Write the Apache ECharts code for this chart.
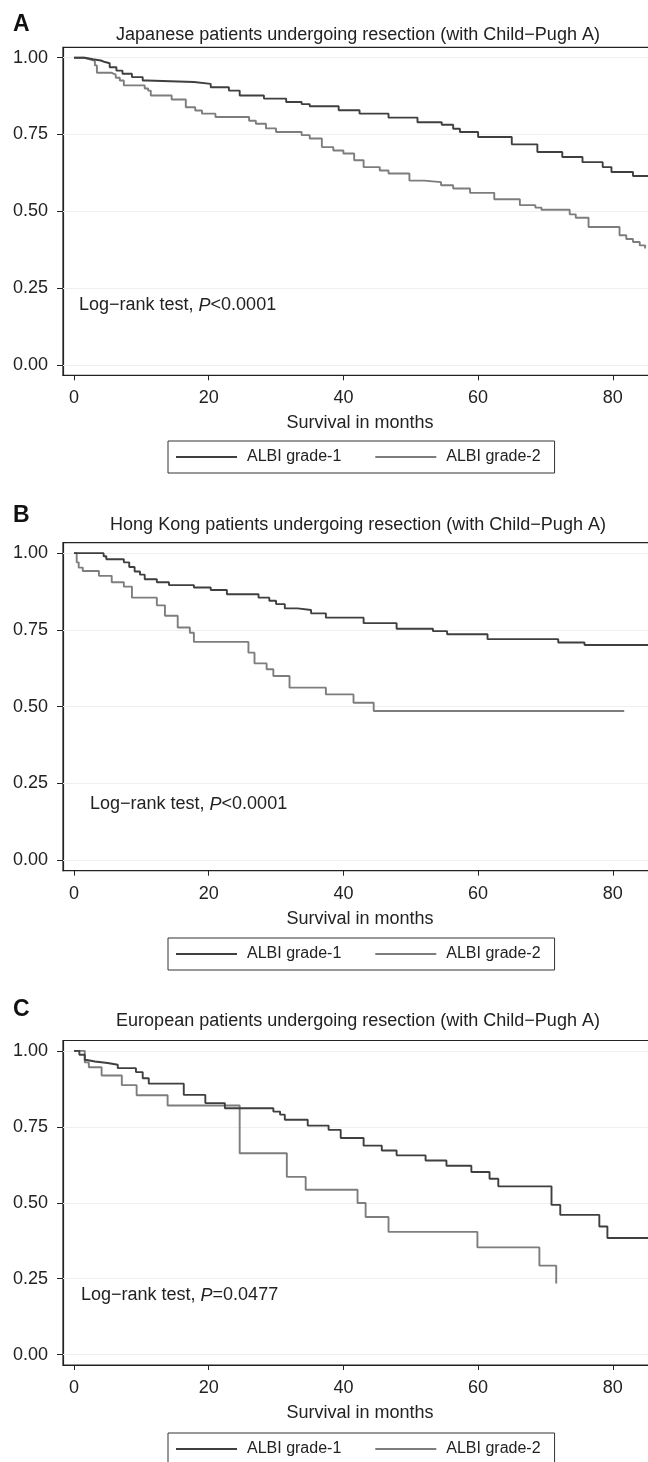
<!DOCTYPE html>
<html>
<head>
<meta charset="utf-8">
<script src="https://cdn.jsdelivr.net/npm/echarts@6/dist/echarts.min.js"></script>
<style>
html,body{margin:0;padding:0;background:#fff;overflow:hidden;}
#chart{width:648px;height:1462px;}
</style>
</head>
<body>
<div id="chart"></div>
<script>
// ---- data ----
const xTicks = [0, 20, 40, 60, 80];
const yTicks = [0, 0.25, 0.5, 0.75, 1];
const seriesNames = ['ALBI grade-1', 'ALBI grade-2'];
const panelLetters = ['A', 'B', 'C'];
const panelTitles = [
  'Japanese patients undergoing resection (with Child\u2212Pugh A)',
  'Hong Kong patients undergoing resection (with Child\u2212Pugh A)',
  'European patients undergoing resection (with Child\u2212Pugh A)'
];
const logRankP = ['<0.0001', '<0.0001', '=0.0477'];

// Panel A – Japanese
const jpG1Time = [0, 1.6, 2.8, 4.0, 4.6, 5.3, 6.3, 7.2, 8.6, 10.2, 10.8, 17.8, 20.3, 23.0, 24.6, 28.2, 31.5, 33.8, 35.0, 39.3, 42.4, 46.7, 51.0, 54.6, 56.3, 57.3, 60.0, 65.0, 68.8, 72.5, 75.5, 78.5, 79.8, 83.0, 85.3];
const jpG1Surv = [1, 0.995, 0.991, 0.986, 0.982, 0.969, 0.958, 0.948, 0.937, 0.926, 0.921, 0.915, 0.904, 0.893, 0.877, 0.867, 0.856, 0.849, 0.842, 0.829, 0.818, 0.805, 0.790, 0.782, 0.769, 0.758, 0.742, 0.718, 0.693, 0.677, 0.660, 0.644, 0.628, 0.615, 0.615];
const jpG2Time = [0, 1.5, 2.2, 3.1, 3.4, 5.6, 6.2, 6.8, 7.4, 10.5, 11.0, 11.4, 14.5, 16.6, 18.0, 19.0, 21.0, 26.0, 27.0, 28.5, 30.0, 33.8, 35.0, 36.8, 38.5, 40.0, 41.6, 43.0, 45.4, 46.7, 49.8, 52.0, 54.5, 56.3, 58.8, 62.4, 66.2, 68.5, 69.4, 73.6, 74.5, 76.4, 81.0, 82.0, 83.0, 84.0, 84.8];
const jpG2Surv = [1, 0.996, 0.990, 0.975, 0.951, 0.945, 0.935, 0.926, 0.910, 0.900, 0.893, 0.877, 0.864, 0.839, 0.828, 0.818, 0.807, 0.795, 0.785, 0.770, 0.758, 0.748, 0.737, 0.709, 0.698, 0.688, 0.666, 0.644, 0.633, 0.623, 0.600, 0.595, 0.585, 0.574, 0.560, 0.539, 0.520, 0.512, 0.505, 0.490, 0.479, 0.449, 0.422, 0.410, 0.400, 0.389, 0.379];

// Panel B – Hong Kong
const hkG1Time = [0, 4.4, 4.8, 7.4, 8.2, 9.0, 9.8, 10.5, 12.3, 14.1, 17.8, 20.3, 22.7, 27.4, 29.0, 30.0, 31.3, 33.2, 35.2, 37.4, 43.0, 47.9, 53.3, 55.4, 61.4, 71.9, 75.8, 85.3];
const hkG1Surv = [1, 0.990, 0.980, 0.970, 0.955, 0.940, 0.930, 0.915, 0.905, 0.896, 0.888, 0.880, 0.866, 0.855, 0.845, 0.834, 0.820, 0.815, 0.804, 0.790, 0.772, 0.754, 0.746, 0.736, 0.720, 0.709, 0.701, 0.701];
const hkG2Time = [0, 0.4, 0.7, 1.3, 3.7, 5.6, 7.4, 8.6, 12.3, 13.5, 15.4, 17.2, 17.8, 25.9, 26.8, 28.6, 29.6, 32.0, 37.4, 41.5, 44.5, 81.7];
const hkG2Surv = [1, 0.970, 0.953, 0.942, 0.926, 0.905, 0.891, 0.855, 0.830, 0.796, 0.758, 0.741, 0.711, 0.676, 0.641, 0.622, 0.600, 0.562, 0.540, 0.513, 0.486, 0.486];

// Panel C – European
const euG1Time = [0, 0.8, 1.6, 1.9, 3.1, 5.0, 6.5, 9.2, 10.2, 11.1, 16.3, 19.5, 22.4, 29.6, 30.6, 31.3, 34.7, 37.8, 39.6, 43.0, 45.7, 47.9, 52.2, 55.3, 59.0, 61.7, 63.0, 70.9, 72.2, 78.0, 79.2, 85.3];
const euG1Surv = [1, 0.987, 0.970, 0.965, 0.960, 0.954, 0.943, 0.930, 0.910, 0.892, 0.855, 0.828, 0.811, 0.800, 0.790, 0.773, 0.754, 0.740, 0.713, 0.688, 0.672, 0.656, 0.639, 0.622, 0.601, 0.579, 0.554, 0.493, 0.460, 0.422, 0.384, 0.384];
const euG2Time = [0, 1.6, 2.2, 4.1, 7.1, 9.3, 13.9, 24.6, 31.6, 34.4, 42.1, 43.3, 46.7, 59.9, 69.1, 71.6];
const euG2Surv = [1, 0.962, 0.946, 0.919, 0.887, 0.854, 0.820, 0.663, 0.585, 0.543, 0.499, 0.453, 0.404, 0.353, 0.293, 0.234];

const panelData = [
  [[jpG1Time, jpG1Surv], [jpG2Time, jpG2Surv]],
  [[hkG1Time, hkG1Surv], [hkG2Time, hkG2Surv]],
  [[euG1Time, euG1Surv], [euG2Time, euG2Surv]]
];

// ---- layout / style ----
const FONT = '"Liberation Sans", Arial, Helvetica, sans-serif';
const INK = '#222';
const lineColors = ['#3f3f3f', '#7d7d7d'];
const gridTops = [47.3, 542.7, 1040.5];
const gridHeights = [328, 328, 324.5];
const letterY = [25.5, 516.5, 1010.5];
const titleY = [35, 525.5, 1021.5];
const logRankPos = [[79, 305.5], [90, 804.5], [81, 1295.5]];
const legendTops = [441, 938, 1433];
// plot area runs slightly past the right edge of the page (right frame not visible)
const GRID_LEFT = 63, GRID_WIDTH = 594;
const PX_PER_MONTH = 6.735, ZERO_PX = 74;
const X_MIN = (GRID_LEFT - ZERO_PX) / PX_PER_MONTH;
const X_MAX = (GRID_LEFT + GRID_WIDTH - ZERO_PX) / PX_PER_MONTH;

const grids = [], xAxes = [], yAxes = [], series = [], legends = [], graphics = [];

for (let p = 0; p < 3; p++) {
  grids.push({
    left: GRID_LEFT, top: gridTops[p], width: GRID_WIDTH, height: gridHeights[p],
    outerBoundsMode: 'none', containLabel: false,
    show: true, borderColor: INK, borderWidth: 1.2, backgroundColor: 'transparent'
  });
  xAxes.push({
    gridIndex: p, type: 'value', min: X_MIN, max: X_MAX,
    name: 'Survival in months', nameLocation: 'middle', nameGap: 39,
    nameTextStyle: {fontFamily: FONT, fontSize: 18, color: INK},
    axisLine: {show: true, onZero: false, lineStyle: {color: INK, width: 1.2}},
    axisTick: {show: true, length: 5, lineStyle: {color: INK, width: 1}, customValues: xTicks},
    axisLabel: {show: true, margin: 14, fontFamily: FONT, fontSize: 18, color: INK, customValues: xTicks},
    splitLine: {show: false}
  });
  yAxes.push({
    gridIndex: p, type: 'value', min: -0.034, max: 1.034,
    axisLine: {show: true, onZero: false, lineStyle: {color: INK, width: 1.2}},
    axisTick: {show: true, length: 6, lineStyle: {color: INK, width: 1}, customValues: yTicks},
    axisLabel: {show: true, margin: 15, fontFamily: FONT, fontSize: 18, color: INK,
      customValues: yTicks, formatter: v => Number(v).toFixed(2)},
    splitLine: {show: false}
  });
  for (let s = 0; s < 2; s++) {
    const [t, sv] = panelData[p][s];
    const ser = {
      name: seriesNames[s], type: 'line', step: 'end',
      xAxisIndex: p, yAxisIndex: p,
      data: t.map((x, i) => [x, sv[i]]),
      symbol: 'none', showSymbol: false, silent: true, animation: false,
      lineStyle: {color: lineColors[s], width: 1.9},
      itemStyle: {color: lineColors[s]},
      z: 3 + (1 - s)
    };
    if (s === 0) {
      ser.markLine = {
        silent: true, symbol: ['none', 'none'], label: {show: false}, animation: false,
        lineStyle: {color: '#efefef', width: 1, type: 'solid'},
        data: yTicks.map(v => ({yAxis: v})),
        z: 1
      };
    }
    series.push(ser);
  }
  legends.push({
    data: seriesNames, left: 168, top: legendTops[p], orient: 'horizontal',
    icon: 'rect', itemWidth: 61, itemHeight: 2, itemGap: 34,
    borderColor: '#333', borderWidth: 1, padding: [8, 14, 8, 8],
    selectedMode: false,
    textStyle: {fontFamily: FONT, fontSize: 16, color: INK, padding: [0, 0, 0, 5]}
  });
  graphics.push({
    type: 'text', left: 13, top: letterY[p] - 12,
    style: {text: panelLetters[p], font: 'bold 23px ' + FONT, fill: '#111'}
  });
  graphics.push({
    type: 'text', x: 358, y: titleY[p],
    style: {text: panelTitles[p], font: '18px ' + FONT, fill: INK, align: 'center', verticalAlign: 'middle'}
  });
  graphics.push({
    type: 'text', x: logRankPos[p][0], y: logRankPos[p][1],
    style: {
      text: '{a|Log\u2212rank test, }{b|P}{a|' + logRankP[p] + '}',
      verticalAlign: 'middle', align: 'left',
      rich: {
        a: {fontFamily: FONT, fontSize: 18, fill: INK, color: INK},
        b: {fontFamily: FONT, fontSize: 18, fontStyle: 'italic', fill: INK, color: INK}
      }
    }
  });
}

const chart = echarts.init(document.getElementById('chart'), null, {renderer: 'canvas'});
chart.setOption({
  animation: false,
  backgroundColor: '#fff',
  grid: grids, xAxis: xAxes, yAxis: yAxes, series: series, legend: legends,
  graphic: graphics
});
</script>
</body>
</html>
